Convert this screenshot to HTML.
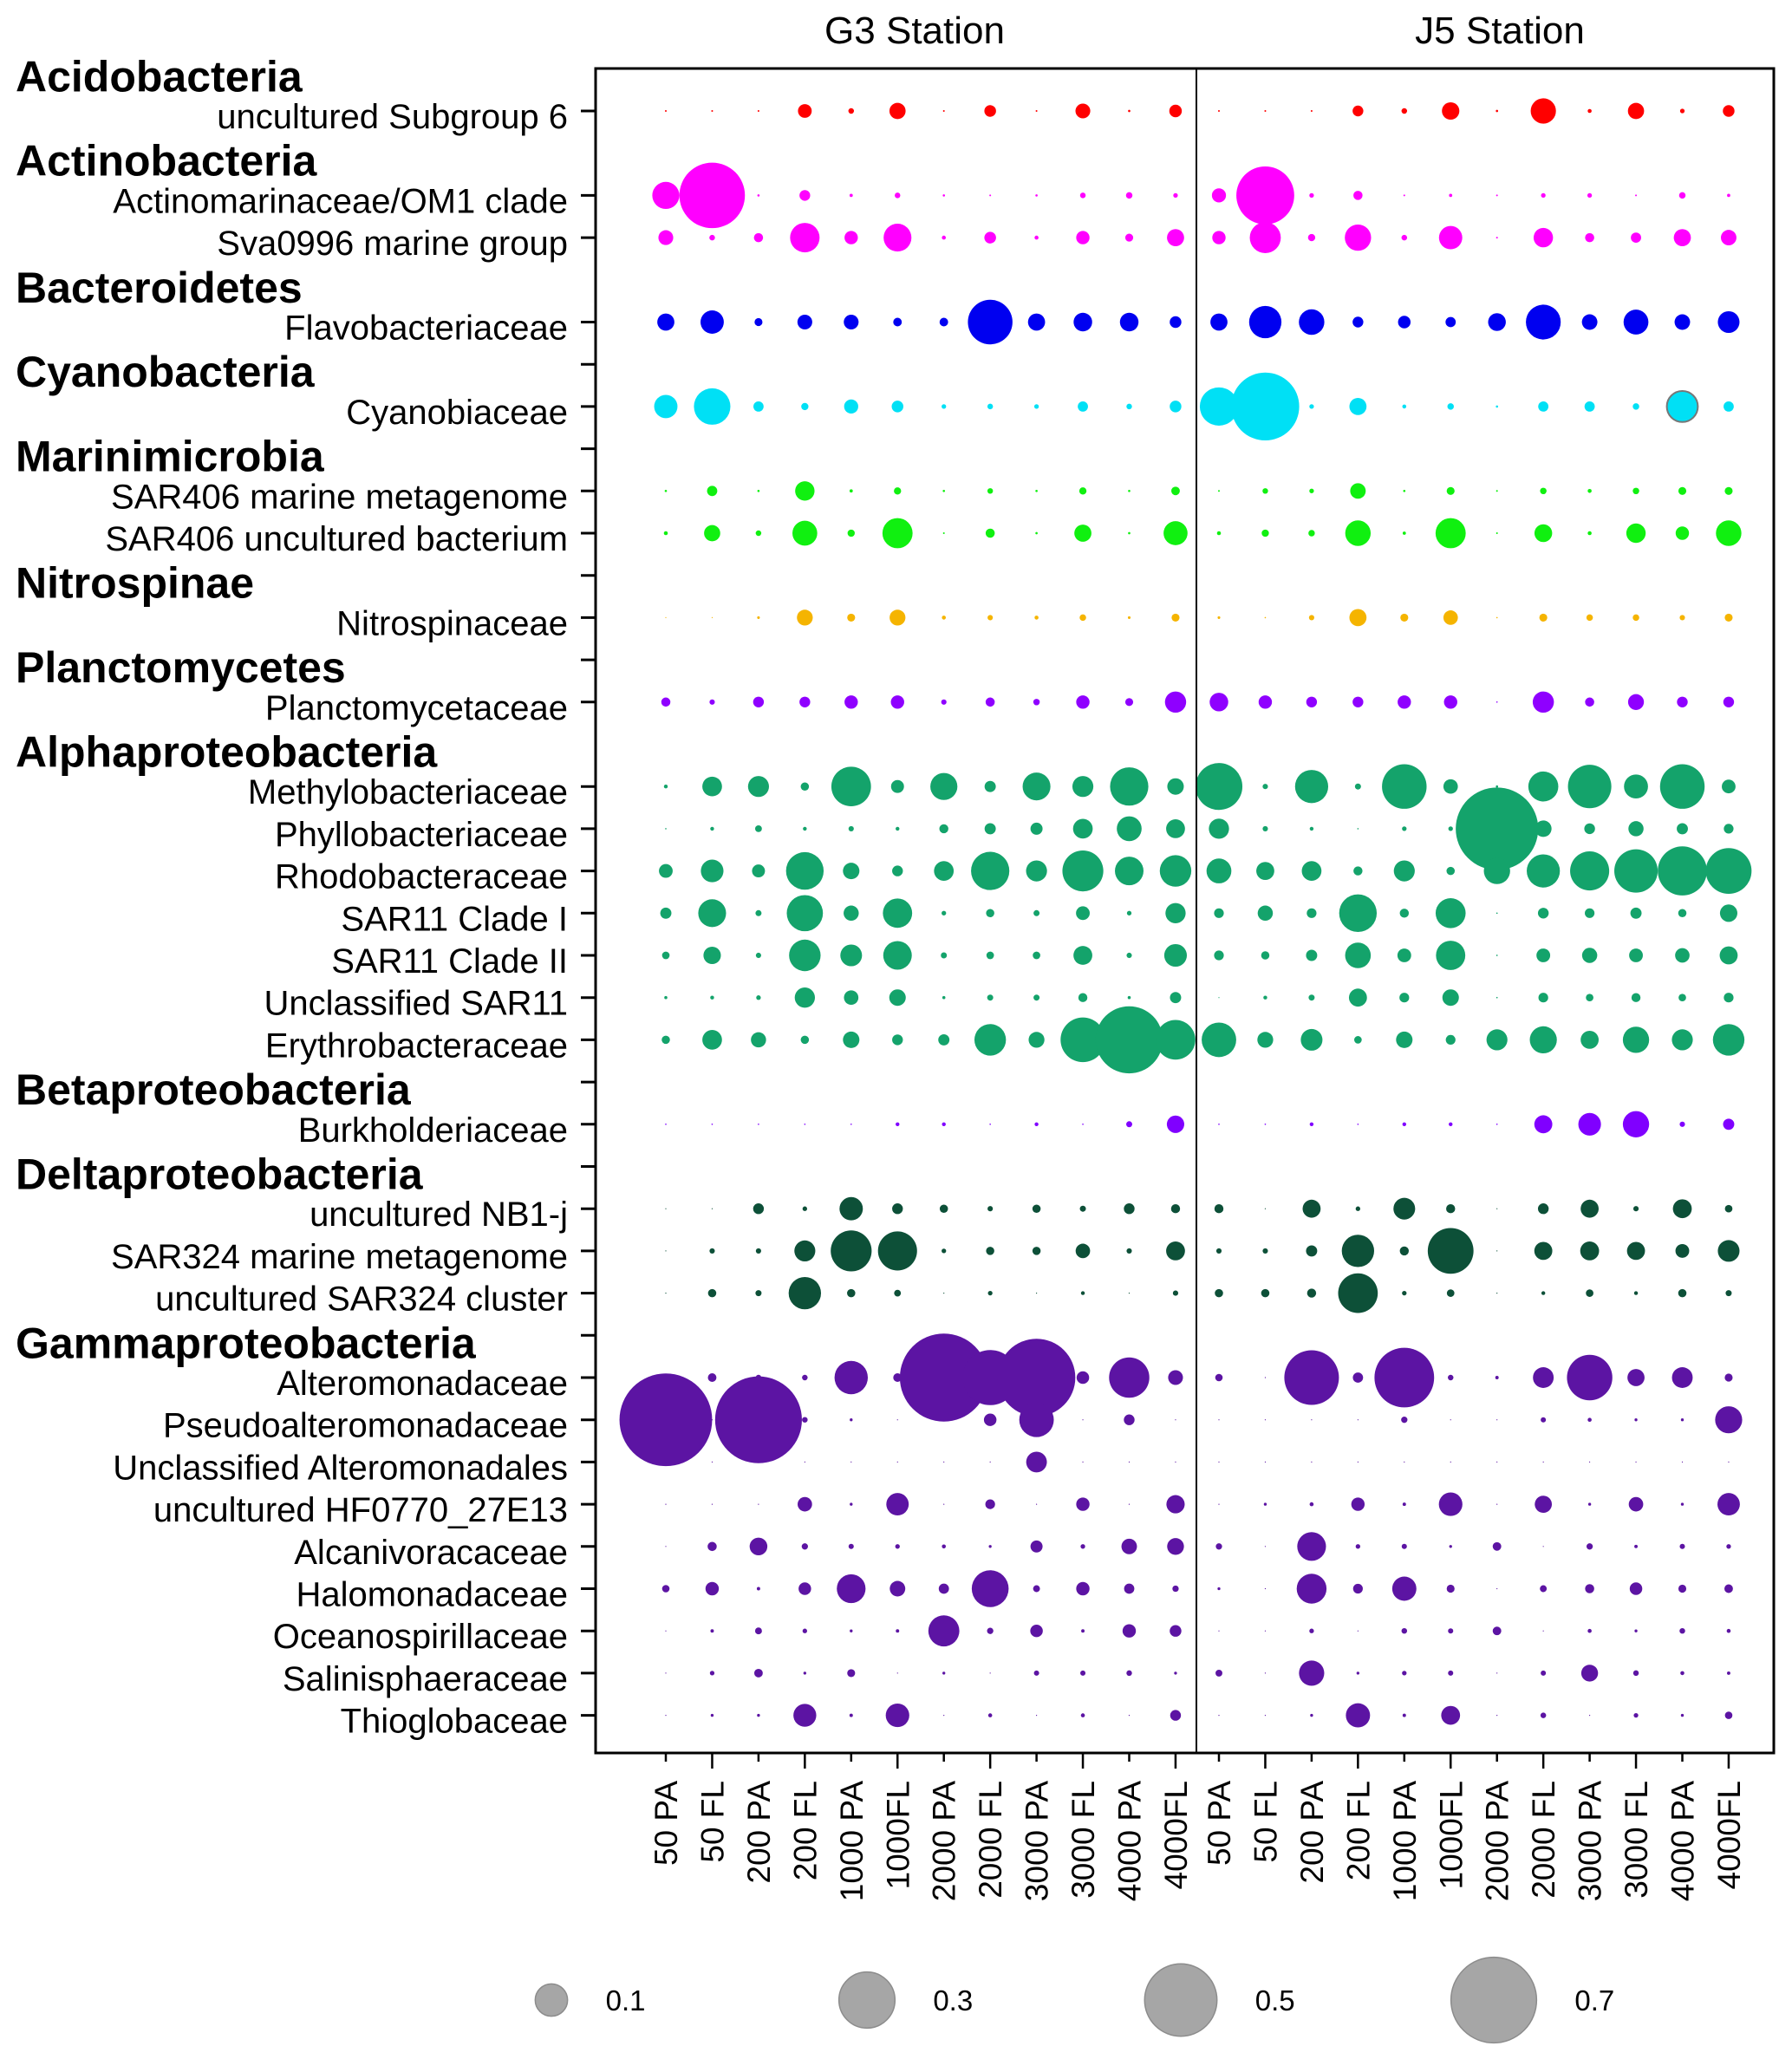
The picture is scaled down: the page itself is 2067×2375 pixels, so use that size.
<!DOCTYPE html>
<html><head><meta charset="utf-8"><style>
html,body{margin:0;padding:0;background:#fff;}
svg{display:block;font-family:"Liberation Sans",Arial,sans-serif;}
</style></head><body>
<svg id="chart" width="2067" height="2375" viewBox="0 0 2067 2375" xmlns="http://www.w3.org/2000/svg">
<rect x="0" y="0" width="2067" height="2375" fill="#fff"/>
<text x="1055" y="50" font-size="44" text-anchor="middle">G3 Station</text>
<text x="1730" y="50" font-size="44" text-anchor="middle">J5 Station</text>
<g id="marks"></g>
<rect x="687" y="79" width="1359" height="1943" fill="none" stroke="#000" stroke-width="3"/>
<line x1="1380" y1="79" x2="1380" y2="2022" stroke="#000" stroke-width="2"/>
<g id="axes"></g>
<g id="legend"></g>
</svg>
<script>
const samples = ["50 PA","50 FL","200 PA","200 FL","1000 PA","1000FL","2000 PA","2000 FL","3000 PA","3000 FL","4000 PA","4000FL"];
const stations = ["G3","J5"];
const groups = [["Acidobacteria",-1],["Actinobacteria",1],["Bacteroidetes",4],["Cyanobacteria",6],["Marinimicrobia",8],["Nitrospinae",11],["Planctomycetes",13],["Alphaproteobacteria",15],["Betaproteobacteria",23],["Deltaproteobacteria",25],["Gammaproteobacteria",29]];
const tickOnlyRows = [6,8,11,13,23,25,29];
const taxa = ["uncultured Subgroup 6","Actinomarinaceae/OM1 clade","Sva0996 marine group","Flavobacteriaceae","Cyanobiaceae","SAR406 marine metagenome","SAR406 uncultured bacterium","Nitrospinaceae","Planctomycetaceae","Methylobacteriaceae","Phyllobacteriaceae","Rhodobacteraceae","SAR11 Clade I","SAR11 Clade II","Unclassified SAR11","Erythrobacteraceae","Burkholderiaceae","uncultured NB1-j","SAR324 marine metagenome","uncultured SAR324 cluster","Alteromonadaceae","Pseudoalteromonadaceae","Unclassified Alteromonadales","uncultured HF0770_27E13","Alcanivoracaceae","Halomonadaceae","Oceanospirillaceae","Salinisphaeraceae","Thioglobaceae"];
const taxonRows = [0,2,3,5,7,9,10,12,14,16,17,18,19,20,21,22,24,26,27,28,30,31,32,33,34,35,36,37,38];
const taxonColors = ["#ff0000","#ff00ff","#ff00ff","#0000f0","#00e0f5","#10f010","#10f010","#f5b400","#8f00ff","#14a36b","#14a36b","#14a36b","#14a36b","#14a36b","#14a36b","#14a36b","#8000ff","#0d5038","#0d5038","#0d5038","#5c14a3","#5c14a3","#5c14a3","#5c14a3","#5c14a3","#5c14a3","#5c14a3","#5c14a3","#5c14a3"];
const v00=[.0003,.0003,.0003,.018,.003,.025,.0003,.013,.0003,.021,.0005,.015, .0003,.0003,.0003,.011,.003,.029,.0005,.061,.0015,.025,.002,.013];
const v01=[.07,.41,.0005,.011,.001,.003,.0005,.0003,.0005,.003,.004,.002, .019,.32,.002,.008,.0003,.001,.0003,.002,.002,.0003,.004,.001];
const v02=[.021,.003,.008,.083,.017,.074,.0015,.013,.0015,.017,.006,.028, .017,.092,.005,.066,.003,.052,.0003,.036,.008,.01,.028,.023];
const v03=[.028,.052,.006,.021,.021,.007,.007,.19,.028,.033,.033,.013, .028,.1,.062,.011,.015,.01,.03,.116,.023,.059,.023,.045];
const v04=[.052,.127,.01,.005,.019,.013,.002,.003,.002,.01,.003,.013, .14,.44,.002,.028,.0015,.004,.0005,.01,.01,.004,.092,.01];
const v05=[.0005,.01,.0005,.036,.001,.005,.0005,.003,.0005,.005,.0005,.007, .0003,.003,.002,.023,.0005,.006,.0003,.004,.0015,.004,.006,.006];
const v06=[.0015,.025,.003,.059,.005,.087,.0003,.008,.0005,.028,.0005,.055, .0015,.005,.004,.062,.001,.087,.0003,.03,.0015,.036,.017,.062];
const v07=[.0001,.0001,.0007,.024,.006,.024,.0015,.0027,.0015,.004,.0007,.006, .0007,.0002,.0027,.028,.006,.02,.0002,.006,.004,.004,.0027,.006];
const v08=[.008,.0027,.011,.011,.017,.017,.0027,.008,.004,.017,.006,.043, .033,.017,.011,.011,.017,.017,.0002,.043,.008,.024,.011,.011];
const v09=[.0014,.037,.042,.0065,.15,.016,.07,.012,.074,.042,.14,.026, .21,.0027,.105,.0035,.19,.02,.0005,.086,.18,.055,.19,.018];
const v10=[.0002,.0014,.0044,.0014,.0027,.0014,.0078,.012,.014,.037,.059,.034, .039,.0027,.0014,.0002,.002,.002,.65,.026,.011,.022,.012,.009];
const v11=[.018,.049,.016,.135,.026,.011,.037,.14,.042,.16,.078,.095, .059,.031,.037,.0078,.042,.0065,.066,.105,.146,.18,.23,.2];
const v12=[.012,.074,.0035,.125,.022,.082,.002,.0065,.0035,.018,.002,.039, .009,.022,.009,.135,.0078,.086,.0002,.011,.009,.012,.0065,.029];
const v13=[.0054,.029,.0027,.095,.045,.078,.0035,.0054,.0054,.034,.0027,.049, .009,.0065,.012,.063,.018,.082,.0002,.018,.022,.018,.02,.031];
const v14=[.0009,.0014,.002,.039,.02,.026,.0009,.0035,.0035,.0078,.0009,.012, .0001,.0014,.0035,.031,.009,.026,.0002,.009,.0054,.0078,.0054,.009];
const v15=[.0065,.037,.022,.0065,.026,.011,.012,.095,.024,.19,.43,.15, .114,.024,.045,.0054,.026,.009,.042,.07,.031,.066,.042,.095];
const v16=[.0002,.0002,.0002,.0002,.0002,.0014,.0014,.0002,.0014,.0002,.0035,.029, .0002,.0002,.0014,.0002,.0014,.0014,.0002,.031,.049,.066,.0027,.012];
const v17=[.0001,.0001,.011,.002,.052,.011,.0065,.0027,.0065,.0035,.011,.0078, .0078,.0001,.031,.002,.045,.0078,.0001,.011,.031,.0027,.034,.0054];
const v18=[.0001,.0027,.0027,.042,.16,.146,.002,.0065,.0065,.02,.0027,.034, .0027,.0027,.012,.1,.0078,.2,.0001,.031,.034,.031,.018,.045];
const v19=[.0001,.0065,.0035,.1,.0065,.0044,.0001,.002,.0001,.0014,.0001,.0027, .0065,.0065,.0078,.15,.002,.0054,.0001,.0014,.0054,.0014,.0065,.0035];
const v20=[.0005,.007,.003,.003,.106,.007,.74,.29,.575,.015,.155,.021, .0053,.0001,.285,.01,.34,.003,.0011,.041,.197,.028,.041,.006];
const v21=[.82,.0001,.72,.003,.0008,.0001,.0001,.015,.114,.0001,.011,.0001, .0001,.0001,.0001,.0001,.0038,.0001,.0001,.0026,.0015,.0008,.0008,.07];
const v22=[.0001,.0001,.0001,.0001,.0001,.0001,.0001,.0001,.041,.0001,.0001,.0001, .0001,.0001,.0001,.0001,.0001,.0001,.0001,.0001,.0001,.0001,.0001,.0001];
const v23=[.0001,.0001,.0001,.02,.0008,.048,.0001,.009,.0001,.017,.0001,.032, .0001,.0008,.0015,.017,.0011,.053,.0001,.028,.0008,.02,.0008,.048];
const v24=[.0001,.008,.03,.0038,.0026,.002,.0015,.0008,.014,.002,.023,.027, .0038,.0001,.079,.002,.0026,.0008,.007,.0001,.0038,.0011,.0026,.002];
const v25=[.0053,.017,.0011,.015,.079,.023,.01,.13,.0045,.017,.01,.0038, .0008,.0001,.085,.009,.056,.006,.0001,.0045,.008,.015,.006,.007];
const v26=[.0001,.0011,.0045,.002,.0008,.0011,.092,.0038,.015,.0011,.017,.013, .0001,.0001,.002,.0001,.003,.0026,.007,.0001,.0015,.0008,.003,.0015];
const v27=[.0001,.002,.007,.0008,.006,.0001,.0008,.0001,.0026,.0026,.003,.0008, .0045,.0001,.061,.0008,.002,.0026,.0001,.0026,.027,.003,.0015,.0011];
const v28=[.0001,.0008,.0008,.05,.0011,.053,.0001,.0015,.0001,.0015,.0001,.011, .0001,.0001,.0008,.056,.0011,.034,.0001,.003,.0001,.002,.0008,.0053];
const values=[v00,v01,v02,v03,v04,v05,v06,v07,v08,v09,v10,v11,v12,v13,v14,v15,v16,v17,v18,v19,v20,v21,v22,v23,v24,v25,v26,v27,v28];
const legendValues=[0.1,0.3,0.5,0.7];
const legendLabels=["0.1","0.3","0.5","0.7"];

const NS="http://www.w3.org/2000/svg";
function mk(tag,attrs,parent){const e=document.createElementNS(NS,tag);for(const k in attrs)e.setAttribute(k,attrs[k]);parent.appendChild(e);return e;}
function xPos(stationIdx,sampleIdx){return (stationIdx===0?768:1406)+sampleIdx*53.45;}
function yPos(row){return 128+row*48.7;}
function rScale(v){return 59*Math.sqrt(v);}

const marks=document.getElementById('marks');
const axes=document.getElementById('axes');
const legend=document.getElementById('legend');

values.forEach((vals,t)=>{
  vals.forEach((v,j)=>{
    const s=j<12?0:1, k=j%12;
    const c=mk('circle',{cx:xPos(s,k),cy:yPos(taxonRows[t]),r:rScale(v).toFixed(2),fill:taxonColors[t]},marks);
    if(t===4 && j===22){c.setAttribute('stroke','#777');c.setAttribute('stroke-width','2');}
    
    
  });
  const y=yPos(taxonRows[t]);
  const tk=mk('line',{x1:670,x2:687,y1:y,y2:y,stroke:'#000','stroke-width':3},axes);
  
  
  const lb=mk('text',{x:655,y:y+20,'font-size':40,'text-anchor':'end'},axes);
  lb.textContent=taxa[t];
  
  
});
tickOnlyRows.forEach(r=>{
  const y=yPos(r);
  const tk=mk('line',{x1:670,x2:687,y1:y,y2:y,stroke:'#000','stroke-width':3},axes);
  
  
});
groups.forEach(g=>{
  const y=yPos(g[1])+8;
  const t=mk('text',{x:18,y:y+18,'font-size':50,'font-weight':'bold'},axes);
  t.textContent=g[0];
  
  
});
for(let s=0;s<2;s++){
  samples.forEach((lab,k)=>{
    const x=xPos(s,k);
    const long=lab.indexOf('FL')>=0;
    const tk=mk('line',{x1:x,x2:x,y1:2022,y2:long?2040:2032,stroke:'#000','stroke-width':2.5},axes);
    
    
    const t=mk('text',{x:0,y:0,'font-size':37,'text-anchor':'end',transform:'translate('+(x+13)+',2054) rotate(-90)'},axes);
    t.textContent=lab;
    
    
  });
}
const legX=[636,1000,1362,1723];
legendValues.forEach((v,i)=>{
  const c=mk('circle',{cx:legX[i],cy:2307,r:rScale(v).toFixed(2),fill:'#a6a6a6',stroke:'#8c8c8c','stroke-width':1.5},legend);
  
  
  const t=mk('text',{x:legX[i]+rScale(v)+44,y:2319,'font-size':33},legend);
  t.textContent=legendLabels[i];
  
  
});
</script>
</body></html>
